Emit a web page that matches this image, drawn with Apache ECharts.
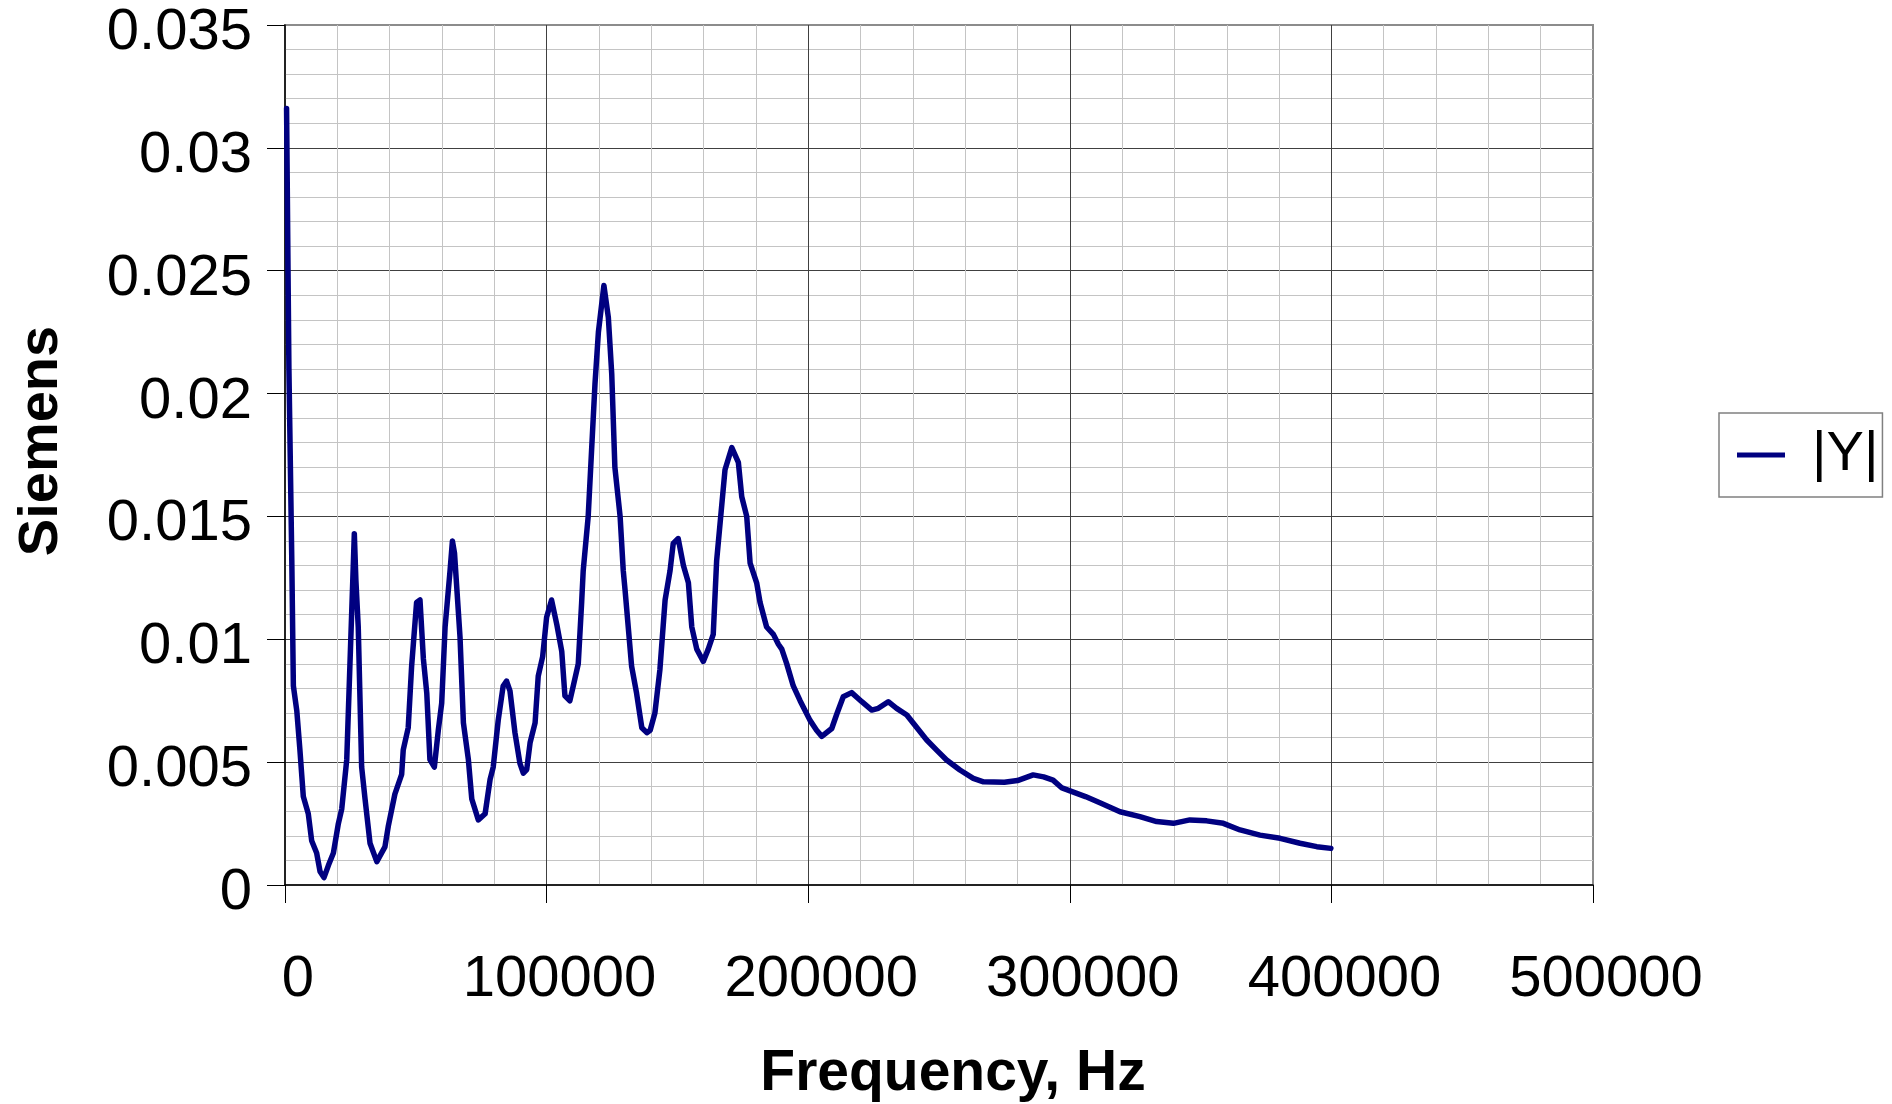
<!DOCTYPE html>
<html>
<head>
<meta charset="utf-8">
<title>|Y| vs Frequency</title>
<script src="https://cdn.jsdelivr.net/npm/echarts@6/dist/echarts.min.js"></script>
<style>
  html, body { margin: 0; padding: 0; background: #ffffff; }
  #chart { width: 1892px; height: 1104px; }
</style>
</head>
<body>
<div id="chart"></div>
<script>
// Admittance magnitude sweep: frequency (Hz) and |Y| (siemens)
const frequencyHz = [
  600, 1500, 2600, 3200, 4500, 5700, 7000, 8900, 10200, 12100,
  13400, 14900, 16600, 18500, 20400, 21700, 23600, 24800, 26100, 26500,
  27100, 28000, 29300, 30600, 32500, 35100, 38200, 39500, 42000, 44600,
  45200, 47100, 48400, 50300, 51600, 52900, 54200, 55400, 57100, 58600,
  59900, 61200, 63100, 64000, 64800, 66900, 68200, 70100, 71400, 73900,
  76500, 78400, 79600, 81500, 83400, 84700, 86000, 87900, 89800, 91100,
  92400, 93700, 95600, 96800, 98500, 100000, 101900, 103900, 105800, 107000,
  108900, 110200, 112100, 113400, 114000, 115900, 117200, 118500, 119800, 121900,
  123600, 124900, 126100, 128100, 129300, 130000, 132500, 134400, 136400, 138300,
  139600, 141400, 143300, 145300, 147200, 148400, 150300, 152300, 154200, 155500,
  157400, 159900, 161800, 163700, 165000, 166300, 168200, 170800, 173300, 174600,
  176500, 177800, 180300, 181600, 184100, 186700, 188600, 189900, 191800, 194300,
  196900, 200700, 203200, 205200, 209000, 210900, 213400, 216600, 220500, 224300,
  226800, 230600, 233800, 237700, 240200, 245300, 249100, 252900, 258000, 263100,
  267000, 275000, 280000, 286000, 290000, 293600, 297000, 306000, 311500, 319200,
  326800, 333200, 339600, 345900, 352300, 358700, 365100, 372700, 380400, 388000,
  394400, 399800
];

const admittanceS = [
  0.0316, 0.0210, 0.0132, 0.0081, 0.0071, 0.0055, 0.0036, 0.0029, 0.0018, 0.0013,
  0.00055, 0.0003, 0.0008, 0.0013, 0.0025, 0.0031, 0.0051, 0.0089, 0.0130, 0.0143,
  0.0124, 0.0105, 0.0048, 0.0035, 0.0017, 0.00095, 0.00155, 0.0024, 0.0037, 0.0045,
  0.0055, 0.0064, 0.0089, 0.0115, 0.0116, 0.0092, 0.0078, 0.0051, 0.0048, 0.0063,
  0.0074, 0.0105, 0.0128, 0.0140, 0.0135, 0.0101, 0.0066, 0.0051, 0.0035, 0.00265,
  0.0029, 0.0043, 0.0048, 0.0067, 0.0081, 0.0083, 0.0079, 0.0062, 0.00495, 0.00455,
  0.0047, 0.0058, 0.0066, 0.0085, 0.0093, 0.0109, 0.0116, 0.0106, 0.0095, 0.0077,
  0.0075, 0.0081, 0.0090, 0.0115, 0.0128, 0.0150, 0.0177, 0.0204, 0.0225, 0.0244,
  0.0231, 0.0208, 0.0170, 0.0150, 0.0128, 0.0120, 0.0089, 0.0078, 0.0064, 0.0062,
  0.0063, 0.0070, 0.00875, 0.0116, 0.0128, 0.0139, 0.0141, 0.0130, 0.0123, 0.0105,
  0.0096, 0.0091, 0.0096, 0.0102, 0.0132, 0.0147, 0.0169, 0.0178, 0.0172, 0.0158,
  0.0150, 0.0131, 0.0123, 0.0115, 0.0105, 0.0102, 0.0098, 0.0096, 0.0090, 0.0081,
  0.0075, 0.0067, 0.0063, 0.00605, 0.00637, 0.00695, 0.00766, 0.00783, 0.00746, 0.00712,
  0.00719, 0.00746, 0.00719, 0.00692, 0.00658, 0.0059, 0.00549, 0.00509, 0.00468, 0.00434,
  0.0042, 0.00418, 0.00425, 0.00448, 0.0044, 0.00427, 0.00395, 0.0036, 0.00335, 0.00298,
  0.00278, 0.00258, 0.00251, 0.00265, 0.00261, 0.00251, 0.00224, 0.00203, 0.0019, 0.0017,
  0.00156, 0.00149
];

const seriesName = '|Y|';
const xAxisTitle = 'Frequency, Hz';
const yAxisTitle = 'Siemens';

// Axis ranges and tick steps
const xRange = [0, 500000];
const xStep = 100000;
const yRange = [0, 0.035];
const yStep = 0.005;

const FONT = '"Liberation Sans", Arial, sans-serif';
const MAJOR_GRID = '#404040';
const MINOR_GRID = '#c4c4c4';

const points = frequencyHz.map((f, i) => [f, admittanceS[i]]);

const chart = echarts.init(document.getElementById('chart'), null, { renderer: 'canvas' });

chart.setOption({
  backgroundColor: '#ffffff',
  animation: false,
  grid: {
    left: 285, right: 299, top: 25, bottom: 219,
    outerBoundsMode: 'none',
    containLabel: false,
    show: true,
    borderColor: '#8c8c8c',
    borderWidth: 2,
    backgroundColor: '#ffffff'
  },
  legend: {
    orient: 'vertical',
    left: 1719,
    top: 413,
    padding: [12, 4, 12, 18],
    borderColor: '#808080',
    borderWidth: 1.5,
    icon: 'rect',
    itemWidth: 48,
    itemHeight: 5,
    textStyle: {
      fontFamily: FONT,
      fontSize: 56,
      color: '#000000',
      lineHeight: 60,
      padding: [0, 0, 0, 22]
    },
    data: [seriesName]
  },
  xAxis: {
    type: 'value',
    min: xRange[0],
    max: xRange[1],
    interval: xStep,
    name: xAxisTitle,
    nameLocation: 'middle',
    nameGap: 161,
    nameTextStyle: {
      fontFamily: FONT,
      fontSize: 57,
      fontWeight: 'bold',
      color: '#000000',
      padding: [0, 0, 0, 28]
    },
    axisLine: { show: true, onZero: false, lineStyle: { color: '#000000', width: 1.5 } },
    axisTick: { show: true, inside: false, length: 18, lineStyle: { color: '#000000', width: 1 } },
    minorTick: { show: false, splitNumber: 5 },
    axisLabel: {
      margin: 66,
      fontFamily: FONT,
      fontSize: 58,
      color: '#000000',
      padding: [0, 0, 0, 26],
      formatter: v => String(v)
    },
    splitLine: {
      show: true,
      showMinLine: false,
      showMaxLine: false,
      lineStyle: { color: MAJOR_GRID, width: 1 }
    },
    minorSplitLine: { show: true, lineStyle: { color: MINOR_GRID, width: 1 } }
  },
  yAxis: {
    type: 'value',
    min: yRange[0],
    max: yRange[1],
    interval: yStep,
    name: yAxisTitle,
    nameLocation: 'middle',
    nameGap: 215,
    nameRotate: 90,
    nameTextStyle: {
      fontFamily: FONT,
      fontSize: 56,
      fontWeight: 'bold',
      color: '#000000',
      padding: [0, 0, 0, 28]
    },
    axisLine: { show: true, onZero: false, lineStyle: { color: '#000000', width: 1.5 } },
    axisTick: { show: true, inside: false, length: 18, lineStyle: { color: '#000000', width: 1 } },
    minorTick: { show: false, splitNumber: 5 },
    axisLabel: {
      margin: 33,
      fontFamily: FONT,
      fontSize: 58,
      color: '#000000',
      verticalAlign: 'top',
      lineHeight: 16,
      formatter: v => String(+v.toFixed(3))
    },
    splitLine: {
      show: true,
      showMinLine: false,
      showMaxLine: false,
      lineStyle: { color: MAJOR_GRID, width: 1 }
    },
    minorSplitLine: { show: true, lineStyle: { color: MINOR_GRID, width: 1 } }
  },
  series: [{
    name: seriesName,
    type: 'line',
    data: points,
    showSymbol: false,
    symbol: 'none',
    smooth: false,
    clip: true,
    color: '#000080',
    lineStyle: { color: '#000080', width: 5.5, cap: 'round', join: 'round' }
  }]
});
</script>
</body>
</html>
